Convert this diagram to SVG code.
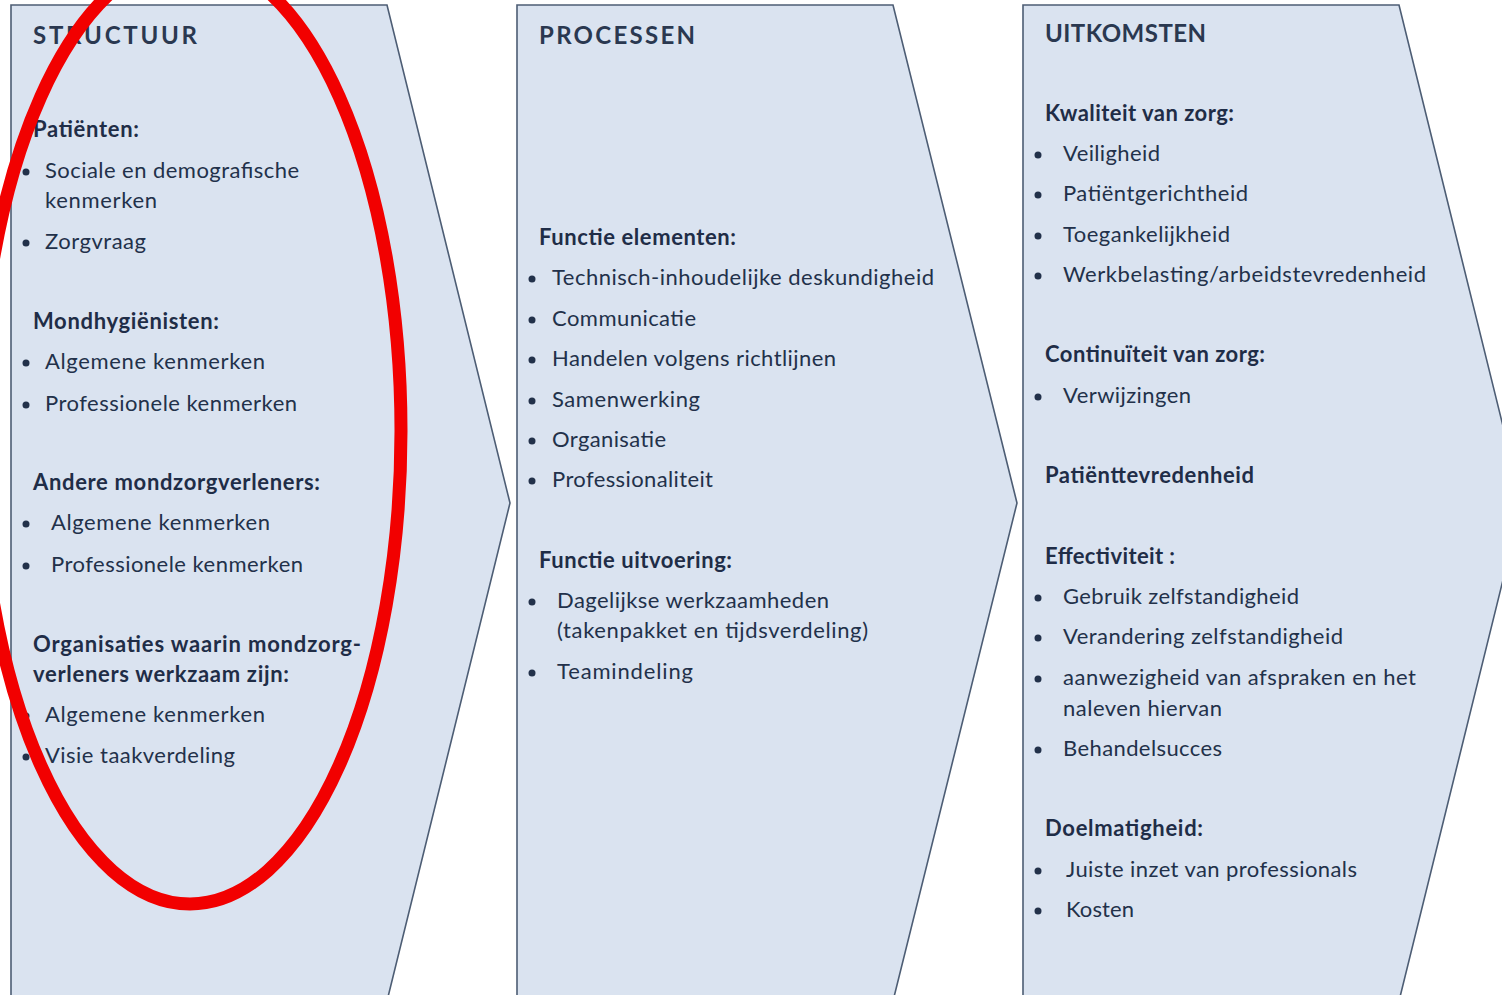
<svg xmlns="http://www.w3.org/2000/svg" width="1502" height="995" viewBox="0 0 1502 995">
<style>
.box{fill:#dae3f0;stroke:#4d5d74;stroke-width:1.6}
text{font-family:Lato,"Open Sans","Liberation Sans",sans-serif;fill:#22314a}
.t{font-size:24px;font-weight:700;letter-spacing:3px;fill:#2a3850}
.h{font-size:22px;font-weight:700;fill:#1f2d47}
.i{font-size:22px;font-weight:400}
.b{fill:#22314a}
</style>
<rect width="1502" height="995" fill="#ffffff"/>
<g id="structuur">
<path class="box" d="M11,5 L387,5 L510,503 L387,1001 L11,1001 Z"/>
<text class="t" x="33" y="44" textLength="167">STRUCTUUR</text>
<text class="h" x="33" y="137" textLength="106">Patiënten:</text>
<circle class="b" cx="26" cy="172" r="3.5"/>
<text class="i" x="45" y="178" textLength="254">Sociale en demografische</text>
<text class="i" x="45" y="208" textLength="112">kenmerken</text>
<circle class="b" cx="26" cy="243" r="3.5"/>
<text class="i" x="45" y="249" textLength="101">Zorgvraag</text>
<text class="h" x="33" y="329" textLength="186">Mondhygiënisten:</text>
<circle class="b" cx="26" cy="363" r="3.5"/>
<text class="i" x="45" y="369" textLength="220">Algemene kenmerken</text>
<circle class="b" cx="26" cy="405" r="3.5"/>
<text class="i" x="45" y="411" textLength="252">Professionele kenmerken</text>
<text class="h" x="33" y="490" textLength="287">Andere mondzorgverleners:</text>
<circle class="b" cx="26" cy="524" r="3.5"/>
<text class="i" x="51" y="530" textLength="219">Algemene kenmerken</text>
<circle class="b" cx="26" cy="566" r="3.5"/>
<text class="i" x="51" y="572" textLength="252">Professionele kenmerken</text>
<text class="h" x="33" y="652" textLength="328">Organisaties waarin  mondzorg-</text>
<text class="h" x="33" y="682" textLength="256">verleners werkzaam zijn:</text>
<circle class="b" cx="26" cy="716" r="3.5"/>
<text class="i" x="45" y="722" textLength="220">Algemene kenmerken</text>
<circle class="b" cx="26" cy="757" r="3.5"/>
<text class="i" x="45" y="763" textLength="190">Visie taakverdeling</text>
</g>
<g id="processen">
<path class="box" d="M517,5 L893,5 L1017,503 L893,1001 L517,1001 Z"/>
<text class="t" x="539" y="44" textLength="159">PROCESSEN</text>
<text class="h" x="539" y="245" textLength="197">Functie elementen:</text>
<circle class="b" cx="532" cy="279" r="3.5"/>
<text class="i" x="552" y="285" textLength="382">Technisch-inhoudelijke deskundigheid</text>
<circle class="b" cx="532" cy="320" r="3.5"/>
<text class="i" x="552" y="326" textLength="144">Communicatie</text>
<circle class="b" cx="532" cy="360" r="3.5"/>
<text class="i" x="552" y="366" textLength="284">Handelen volgens richtlijnen</text>
<circle class="b" cx="532" cy="401" r="3.5"/>
<text class="i" x="552" y="407" textLength="148">Samenwerking</text>
<circle class="b" cx="532" cy="441" r="3.5"/>
<text class="i" x="552" y="447" textLength="114">Organisatie</text>
<circle class="b" cx="532" cy="481" r="3.5"/>
<text class="i" x="552" y="487" textLength="161">Professionaliteit</text>
<text class="h" x="539" y="568" textLength="193">Functie uitvoering:</text>
<circle class="b" cx="532" cy="602" r="3.5"/>
<text class="i" x="557" y="608" textLength="272">Dagelijkse werkzaamheden</text>
<text class="i" x="557" y="638" textLength="311">(takenpakket en tijdsverdeling)</text>
<circle class="b" cx="532" cy="673" r="3.5"/>
<text class="i" x="557" y="679" textLength="136">Teamindeling</text>
</g>
<g id="uitkomsten">
<path class="box" d="M1023,5 L1399,5 L1522,503 L1399,1001 L1023,1001 Z"/>
<text class="t" x="1045" y="42" textLength="164">UITKOMSTEN</text>
<text class="h" x="1045" y="121" textLength="189">Kwaliteit van zorg:</text>
<circle class="b" cx="1038" cy="155" r="3.5"/>
<text class="i" x="1063" y="161" textLength="97">Veiligheid</text>
<circle class="b" cx="1038" cy="195" r="3.5"/>
<text class="i" x="1063" y="201" textLength="185">Patiëntgerichtheid</text>
<circle class="b" cx="1038" cy="236" r="3.5"/>
<text class="i" x="1063" y="242" textLength="167">Toegankelijkheid</text>
<circle class="b" cx="1038" cy="276" r="3.5"/>
<text class="i" x="1063" y="282" textLength="363">Werkbelasting/arbeidstevredenheid</text>
<text class="h" x="1045" y="362" textLength="220">Continuïteit van zorg:</text>
<circle class="b" cx="1038" cy="397" r="3.5"/>
<text class="i" x="1063" y="403" textLength="128">Verwijzingen</text>
<text class="h" x="1045" y="483" textLength="209">Patiënttevredenheid</text>
<text class="h" x="1045" y="564" textLength="130">Effectiviteit :</text>
<circle class="b" cx="1038" cy="598" r="3.5"/>
<text class="i" x="1063" y="604" textLength="236">Gebruik zelfstandigheid</text>
<circle class="b" cx="1038" cy="638" r="3.5"/>
<text class="i" x="1063" y="644" textLength="280">Verandering zelfstandigheid</text>
<circle class="b" cx="1038" cy="679" r="3.5"/>
<text class="i" x="1063" y="685" textLength="353">aanwezigheid van afspraken en het</text>
<text class="i" x="1063" y="716" textLength="159">naleven hiervan</text>
<circle class="b" cx="1038" cy="750" r="3.5"/>
<text class="i" x="1063" y="756" textLength="159">Behandelsucces</text>
<text class="h" x="1045" y="836" textLength="158">Doelmatigheid:</text>
<circle class="b" cx="1038" cy="871" r="3.5"/>
<text class="i" x="1066" y="877" textLength="291">Juiste inzet van professionals</text>
<circle class="b" cx="1038" cy="911" r="3.5"/>
<text class="i" x="1066" y="917" textLength="68">Kosten</text>
</g>
<g id="highlight">
<ellipse cx="190" cy="431" rx="211" ry="473" fill="none" stroke="#f20000" stroke-width="13"/>
</g>
</svg>
